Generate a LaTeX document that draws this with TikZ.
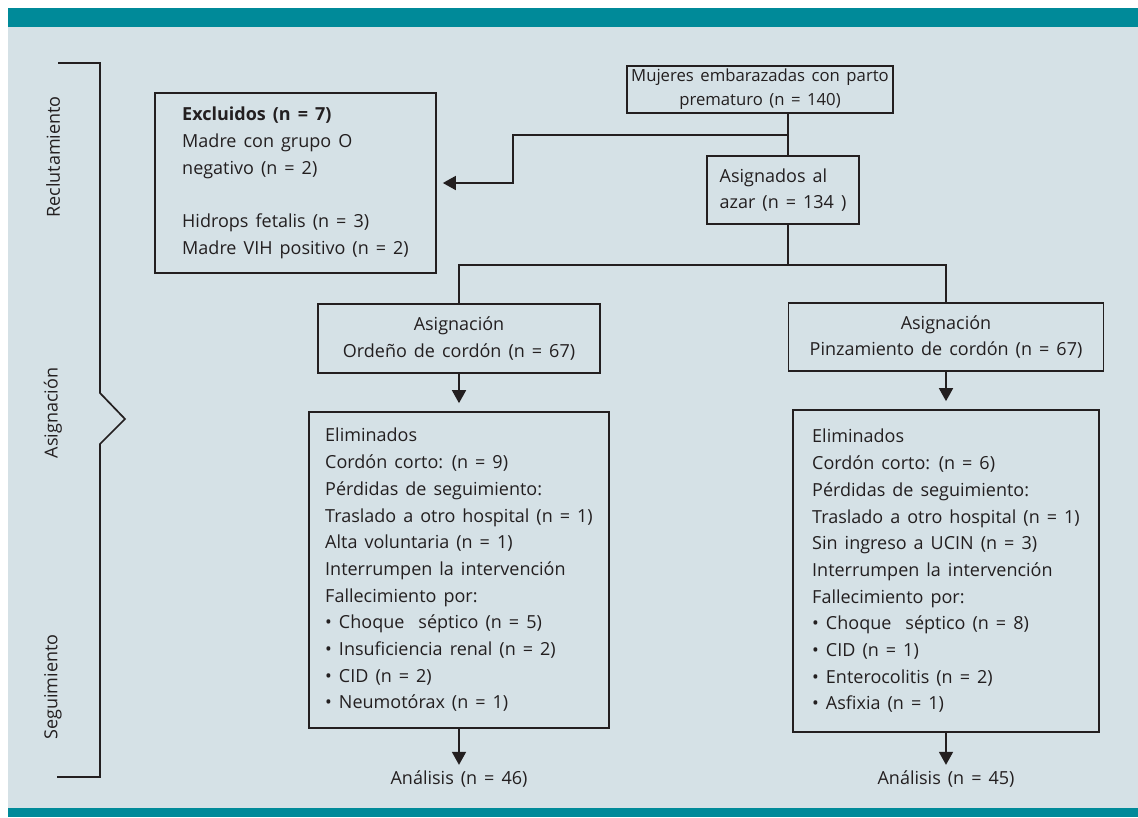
\documentclass[tikz,border=0pt]{standalone}
\usepackage{fontspec}
\setmainfont{Open Sans}[WordSpace=1.5]
\usetikzlibrary{arrows.meta,positioning}

\definecolor{fondo}{HTML}{D5E1E6}
\definecolor{banda}{HTML}{008A99}
\definecolor{tinta}{HTML}{231F20}
\newcommand\flowfont{\fontsize{18}{26.7}\selectfont}
\newcommand\headfont{\fontsize{16.7}{24}\selectfont}

\begin{document}
\begin{tikzpicture}[
            x = 1pt, y = -1pt, % pixel-like units, y going down
            > = {Triangle[length=13pt,width=14pt]}, % arrow head style
            line/.style = {draw=tinta, line width=1.7pt},
            box/.style = {line, inner xsep=4pt, inner ysep=0pt, font=\flowfont, text=tinta},
            plain/.style = {inner sep=0pt, font=\flowfont, text=tinta},
            fase/.style = {plain, rotate=90},
            node distance = 40pt
        ]

	% frame
	\useasboundingbox (0,0) rectangle (1138,817);
	\fill[white] (0,0) rectangle (1138,817);
	\fill[fondo] (8,8) rectangle (1138,817);
	\fill[banda] (8,8) rectangle (1138,27);
	\fill[banda] (8,808) rectangle (1138,817);

	% phases
	\draw[line] (58,63) -- (100,63) -- (100,393) -- (125,419) -- (100,444) -- (100,777) -- (57,777);
	\node[fase] (reclutamiento) at (53,157) {Reclutamiento};
	\node[fase] (asignacion) at (53,413) {Asignación};
	\node[fase] (seguimiento) at (53,687) {Seguimiento};

	% boxes
	\node[box, font=\headfont, minimum width=266pt, minimum height=47pt, align=center] (embarazadas) at (760,89.5) {Mujeres embarazadas con parto\\prematuro (n = 140)};
	\node[box, minimum width=281pt, minimum height=180pt, align=left] (excluidos) at (295.5,183) {\textbf{Excluidos (n = 7)}\\Madre con grupo O\\negativo (n = 2)\\[26.7pt]Hidrops fetalis (n = 3)\\Madre VIH positivo (n = 2)};
	\node[box, minimum width=152pt, minimum height=68pt, align=left] (azar) at (783,190) {Asignados al\\azar (n = 134 )};
	\node[box, minimum width=282pt, minimum height=69pt, align=center] (ordeno) at (459,338.5) {Asignación\\Ordeño de cordón (n = 67)};
	\node[box, minimum width=315pt, minimum height=68pt, align=center] (pinzamiento) at (946,337) {Asignación\\Pinzamiento de cordón (n = 67)};
	\node[box, minimum width=300pt, minimum height=316pt, align=left] (elimOrdeno) at (459,570) {Eliminados\\Cordón corto: (n = 9)\\Pérdidas de seguimiento:\\Traslado a otro hospital (n = 1)\\Alta voluntaria (n = 1)\\Interrumpen la intervención\\Fallecimiento por:\\• Choque\ \ séptico (n = 5)\\• Insuficiencia renal (n = 2)\\• CID (n = 2)\\• Neumotórax (n = 1)};
	\node[box, minimum width=306pt, minimum height=322pt, align=left] (elimPinza) at (946,571) {Eliminados\\Cordón corto: (n = 6)\\Pérdidas de seguimiento:\\Traslado a otro hospital (n = 1)\\Sin ingreso a UCIN (n = 3)\\Interrumpen la intervención\\Fallecimiento por:\\• Choque\ \ séptico (n = 8)\\• CID (n = 1)\\• Enterocolitis (n = 2)\\• Asfixia (n = 1)};
	\node[plain] (analisisOrdeno) [below=42pt of elimOrdeno] {Análisis (n = 46)};
	\node[plain] (analisisPinza) [below=38pt of elimPinza] {Análisis (n = 45)};

	% connectors
	\coordinate (tronco) at (788,135);
	\coordinate (codo) at (513,135);
	\coordinate (reparto) at (788,265);
	\draw[line] (embarazadas.south -| tronco) -- (azar.north -| tronco);
	\draw[line,->,shorten >=6pt] (tronco) -- (codo) |- (excluidos.east);
	\draw[line] (azar.south -| tronco) -- (reparto);
	\draw[line] (ordeno.north) |- (reparto) -| (pinzamiento.north);
	\draw[line,->,shorten >=8pt] (ordeno.south) -- (elimOrdeno.north);
	\draw[line,->,shorten >=8pt] (pinzamiento.south) -- (elimPinza.north);
	\draw[line,->,shorten >=6pt] (elimOrdeno.south) -- (analisisOrdeno.north);
	\draw[line,->,shorten >=6pt] (elimPinza.south) -- (analisisPinza.north);
\end{tikzpicture}
\end{document}
